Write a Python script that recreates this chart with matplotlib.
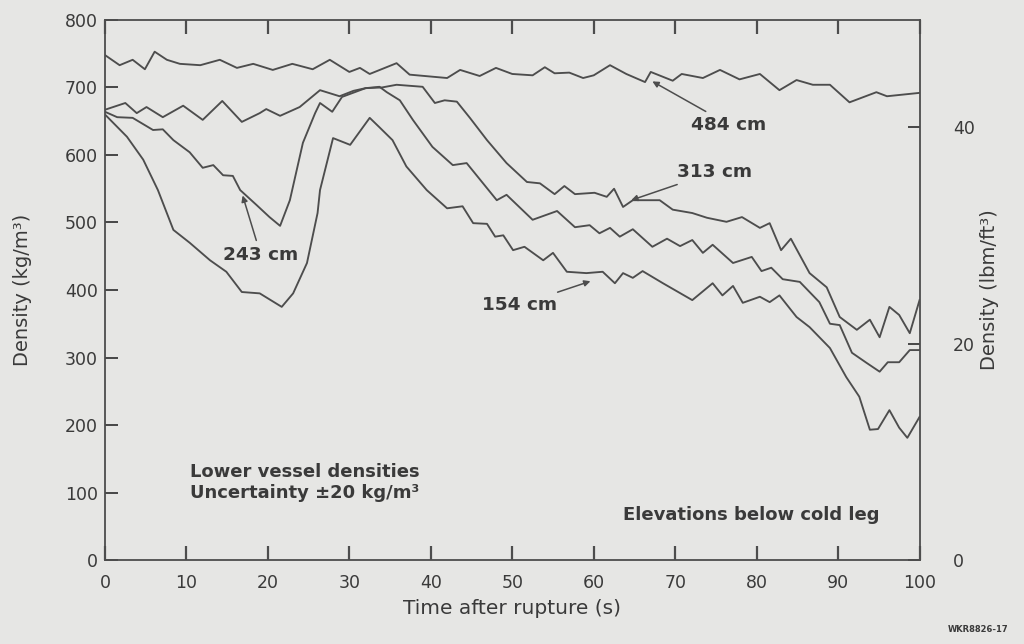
import matplotlib
matplotlib.use("Agg")
import matplotlib.pyplot as plt
import numpy as np

t_484 = [0, 1.8, 3.4, 4.9, 6.1, 7.6, 9.2, 11.7, 14.1, 16.2, 18.2, 20.6, 23, 25.5, 27.6, 30,
         31.3, 32.5, 35.8, 37.4, 42, 43.6, 46, 48, 50, 52.5, 54, 55.2, 57, 58.7, 60, 62, 64,
         66.3, 67, 69.7, 70.8, 73.4, 75.5, 77.9, 80.4, 82.8, 84.9, 86.9, 89, 91.4, 94.7, 96, 100]
d_484 = [748, 733, 741, 727, 753, 741, 735, 733, 741, 729, 735, 726, 735, 727, 741, 723,
         729, 720, 736, 719, 714, 726, 717, 729, 720, 718, 730, 721, 722, 714, 718, 733, 720,
         708, 723, 710, 720, 714, 726, 712, 720, 696, 711, 704, 704, 678, 693, 687, 692]

t_313 = [0, 2.5, 3.9, 5.1, 7.1, 9.6, 12, 14.4, 16.8, 19, 19.8, 21.5, 23.9, 26.4, 28.8, 30.5,
         32, 34, 35.8, 39, 40.5, 41.7, 43.2, 44.8, 46.9, 49.3, 51.8, 53.4, 55.2, 56.4, 57.7,
         60.1, 61.6, 62.5, 63.6, 64.8, 68.1, 69.7, 72.1, 73.9, 76.3, 78.2, 80.4, 81.6, 83,
         84.2, 86.5, 88.6, 90.2, 92.3, 93.9, 95.1, 96.3, 97.5, 98.8, 100]
d_313 = [667, 677, 662, 671, 656, 673, 652, 680, 649, 662, 668, 658, 671, 696, 687, 695,
         699, 700, 704, 701, 677, 681, 679, 655, 622, 588, 560, 558, 542, 554, 542,
         544, 538, 550, 523, 533, 533, 519, 514, 507, 501, 508, 492, 499, 459,
         476, 425, 404, 360, 341, 356, 330, 375, 363, 336, 385]

t_243 = [0, 1.5, 3.4, 5.9, 7.1, 8.4, 10.4, 12, 13.3, 14.5, 15.7, 16.6, 18.6, 20.2, 21.5,
         22.7, 24.3, 25.8, 26.4, 27.9, 29.1, 32, 33.7, 34.6, 36.2, 37.8, 40.2, 42.7, 44.4,
         48.1, 49.3, 52.5, 55.5, 57.7, 59.5, 60.7, 62, 63.2, 64.8, 67.2, 69, 70.6, 72.1, 73.4,
         74.6, 77.1, 79.4, 80.6, 81.8, 83.2, 85.3, 87.7, 89, 90.2, 91.7, 93.5, 95.1, 96.1,
         97.5, 98.8, 100]
d_243 = [664, 656, 655, 637, 638, 622, 604, 581, 585, 570, 569, 548, 526, 508, 495,
         533, 618, 662, 677, 664, 686, 699, 701, 693, 681, 652, 612, 585, 588,
         533, 541, 504, 517, 493, 496, 484, 492, 479, 490, 464, 476, 465, 474, 455,
         467, 440, 449, 428, 433, 416, 412, 382, 350, 348, 307, 292, 279, 293,
         293, 311, 311]

t_154 = [0, 2.7, 4.7, 6.5, 8.4, 10.4, 12.9, 14.9, 16.8, 19, 21.7, 23.1, 24.8, 26.1, 26.4,
         28, 30.1, 32.5, 33.7, 35.3, 37, 39.5, 42, 43.9, 45.2, 46.9, 47.9, 48.9, 50.1, 51.5,
         53.8, 55, 56.7, 59.1, 61.1, 62.6, 63.6, 64.8, 66, 68.5, 72.1, 74.6, 75.8, 77.1, 78.3,
         80.4, 81.6, 82.8, 84.9, 86.5, 89, 91, 92.6, 93.9, 94.9, 96.3, 97.5, 98.5, 100]
d_154 = [660, 627, 593, 548, 489, 470, 444, 427, 397, 395, 375, 395, 440, 514, 548,
         625, 615, 655, 641, 622, 583, 548, 521, 524, 499, 498, 479, 481, 459, 464,
         444, 455, 427, 425, 427, 410, 425, 418, 428, 410, 385, 410, 392, 406, 381,
         390, 382, 392, 360, 345, 314, 271, 242, 193, 194, 222, 196, 181, 212]

# label, text position, arrow head position
labels = ["484 cm", "313 cm", "243 cm", "154 cm"]
text_xy = [(72, 645), (70.2, 575), (14.5, 452), (46.3, 378)]
head_xy = [(67.2, 709), (64.6, 533), (16.9, 540), (59.6, 413)]

KG_PER_LBM_FT3 = 16.0185

bg = "#e6e6e4"
ink = "#3a3a3a"
line_c = "#4d4d4d"

plt.rcParams["font.family"] = ["DejaVu Sans"]

fig = plt.figure(figsize=(10.24, 6.44), dpi=100, facecolor=bg)
ax = fig.add_axes([0.1025, 0.1304, 0.7955, 0.8386], facecolor=bg)

for tt, dd in [(t_484, d_484), (t_313, d_313), (t_243, d_243), (t_154, d_154)]:
    ax.plot(tt, dd, color=line_c, lw=1.35)

for lab, (tx, ty), (hx, hy) in zip(labels, text_xy, head_xy):
    ax.annotate(lab, xy=(hx, hy), xytext=(tx, ty), fontsize=13.3, weight="bold",
                color=ink, ha="left", va="center",
                arrowprops=dict(arrowstyle="-|>", color=line_c, lw=1.1,
                                mutation_scale=9, shrinkA=2, shrinkB=0))

ax.text(10.4, 131, "Lower vessel densities", fontsize=13, weight="bold", color=ink, va="center")
ax.text(10.4, 99, "Uncertainty \u00b120 kg/m\u00b3", fontsize=13, weight="bold", color=ink,
        va="center")
ax.text(95.1, 67, "Elevations below cold leg", fontsize=13, weight="bold", color=ink,
        va="center", ha="right")

ax.set_xlim(0, 100)
ax.set_ylim(0, 800)
ax.set_xticks(np.arange(0, 101, 10))
ax.set_yticks(np.arange(0, 801, 100))
ax.tick_params(axis="y", direction="in", length=9, width=1.3, colors=ink,
               labelsize=12.5, pad=5, right=False)
ax.tick_params(axis="x", which="major", direction="in", length=10, width=1.6,
               color=line_c, labelcolor=ink, labelsize=12.5, pad=10,
               bottom=True, top=True)
ax.set_xlabel("Time after rupture (s)", fontsize=14.5, color=ink, labelpad=5)
ax.set_ylabel("Density (kg/m\u00b3)", fontsize=14, color=ink, labelpad=24)
for s in ax.spines.values():
    s.set_color(line_c)
    s.set_linewidth(1.3)

# right axis in lbm/ft3
sec = ax.secondary_yaxis("right", functions=(lambda v: v / KG_PER_LBM_FT3,
                                             lambda v: v * KG_PER_LBM_FT3))
sec.set_yticks([0, 20, 40])
sec.tick_params(direction="in", length=9, width=1.3, colors=ink, labelsize=12.5, pad=24)
sec.set_ylabel("Density (lbm/ft\u00b3)", fontsize=14, color=ink, labelpad=4)
sec.spines["right"].set_visible(False)

fig.text(0.985, 0.018, "WKR8826-17", fontsize=6, color=ink, ha="right", weight="bold")

fig.savefig("out.png", dpi=100, facecolor=bg)
